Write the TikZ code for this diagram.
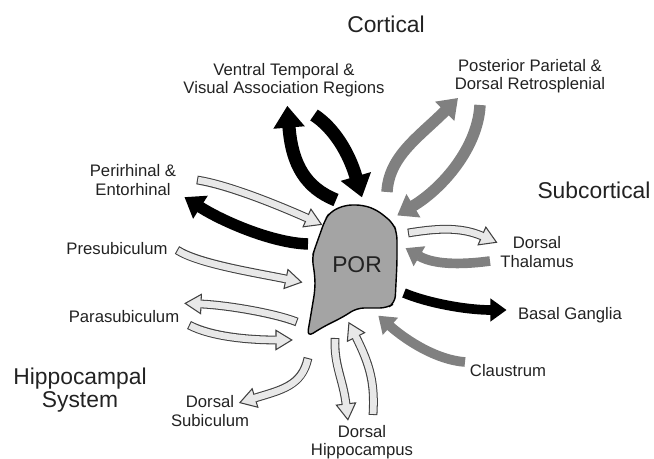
\documentclass[tikz,border=0pt]{standalone}
\usepackage{fontspec}
\setmainfont{Liberation Sans}
\usepackage{tikz}
\usetikzlibrary{decorations.markings}
\definecolor{porgrey}{HTML}{A4A4A4}
\definecolor{fibregrey}{HTML}{808080}
\definecolor{palegrey}{HTML}{E8E8E8}
\definecolor{inkgrey}{HTML}{222222}
\tikzset{
    darkfibre/.style={draw=black, line width=#1,
        postaction={decorate, decoration={markings, mark=at position 1 with {
            \fill[black] (-0.3pt,{-1.2*#1}) -- ({1.6*#1},0) -- (-0.3pt,{1.2*#1}) -- cycle;}}}},
    darkfibre/.default=6.5pt,
    greyfibre/.style={draw=fibregrey, line width=#1,
        postaction={decorate, decoration={markings, mark=at position 1 with {
            \fill[fibregrey] (-0.3pt,{-1.2*#1}) -- ({1.6*#1},0) -- (-0.3pt,{1.2*#1}) -- cycle;}}}},
    greyfibre/.default=6.5pt,
    palefibre/.style={draw=black!75, line width=5pt,
        postaction={draw=palegrey, line width=3.8pt, shorten <=0.6pt},
        postaction={decorate, decoration={markings, mark=at position 1 with {
            \fill[palegrey] (-0.3pt,-5.5pt) -- (9pt,0) -- (-0.3pt,5.5pt) -- cycle;
            \draw[black!75, line width=0.6pt] (0,1.9pt) -- (0,5.5pt) -- (9pt,0) -- (0,-5.5pt) -- (0,-1.9pt);}}}},
    region/.style={font=\fontsize{9.5}{10.5}\selectfont, text=inkgrey, align=center, inner sep=0pt},
    system/.style={font=\fontsize{13}{13.5}\selectfont, text=inkgrey, align=center, inner sep=0pt}
}
\begin{document}
\begin{tikzpicture}[x=0.02cm, y=-0.02cm]
    \useasboundingbox (0,0) rectangle (654,459);

    % postrhinal cortex
    \draw[fill=porgrey, line width=0.8pt, rounded corners=4pt]
        (330,212) -- (345,205) -- (363,205) -- (377,210) -- (393,223) -- (397,233)
        -- (397,263) -- (395,303) -- (387,308) -- (357,308) -- (343,317) -- (323,327)
        -- (307,337) -- (310,320) -- (315,290) -- (315,277) -- (312,257) -- (315,248)
        -- (325,220) -- cycle;
    \node[system] (por) at (357,265) {POR};

    % system headings
    \node[system] (cortical) at (386,24) {Cortical};
    \node[system] (subcortical) at (594,190) {Subcortical};
    \node[system] (hippo) at (80,390) {Hippocampal\\System};

    % regions
    \node[region] (ventral) at (284,80) {Ventral Temporal \&\\Visual Association Regions};
    \node[region] (parietal) at (530,76) {Posterior Parietal \&\\Dorsal Retrosplenial};
    \node[region] (perirhinal) at (133,180) {Perirhinal \&\\Entorhinal};
    \node[region] (presub) at (117,249) {Presubiculum};
    \node[region] (parasub) at (124,317) {Parasubiculum};
    \node[region] (dsub) at (210,411) {Dorsal\\Subiculum};
    \node[region] (dhippo) at (362,442) {Dorsal\\Hippocampus};
    \node[region] (claustrum) at (508,371) {Claustrum};
    \node[region] (basal) at (570,315) {Basal Ganglia};
    \node[region] (thalamus) at (537,252) {Dorsal\\Thalamus};

    % cortical fibres
    \coordinate (vtA) at (336,200); \coordinate (vtB) at (289,127);
    \coordinate (vtC) at (314,115); \coordinate (vtD) at (356,177);
    \draw[darkfibre=7.5pt] (vtA) .. controls +(-30,-12) and +(3,38) .. (vtB);
    \draw[darkfibre=7.5pt] (vtC) .. controls +(20,13) and +(-7,-24) .. (vtD);
    \coordinate (ppA) at (387,192); \coordinate (ppB) at (445,111);
    \coordinate (ppC) at (480,105); \coordinate (ppD) at (413,206);
    \draw[greyfibre] (ppA) .. controls +(2,-36) and +(-26,26) .. (ppB);
    \draw[greyfibre] (ppC) .. controls +(-2,42) and +(30,-18) .. (ppD);

    % hippocampal fibres
    \coordinate (peA) at (197,180); \coordinate (peB) at (307,218);
    \coordinate (peC) at (308,244); \coordinate (peD) at (200,207);
    \draw[palefibre] (peA) .. controls +(32,5) and +(-27,-12) .. (peB);
    \draw[darkfibre] (peC) .. controls +(-36,-1) and +(22,14) .. (peD);
    \coordinate (prA) at (177,250); \coordinate (prB) at (286,279);
    \draw[palefibre] (prA) .. controls +(22,14) and +(-29,-6) .. (prB);
    \coordinate (paA) at (297,322); \coordinate (paB) at (201,304);
    \coordinate (paC) at (189,325); \coordinate (paD) at (276,340);
    \draw[palefibre] (paA) .. controls +(-23,-9) and +(25,1) .. (paB);
    \draw[palefibre] (paC) .. controls +(23,12) and +(-26,0) .. (paD);
    \coordinate (dsA) at (308,358); \coordinate (dsB) at (255,398);
    \draw[palefibre] (dsA) .. controls +(-6,28) and +(26,-8) .. (dsB);
    \coordinate (dhA) at (335,338); \coordinate (dhB) at (346,404);
    \coordinate (dhC) at (373,415); \coordinate (dhD) at (356,337);
    \draw[palefibre] (dhA) .. controls +(-1,28) and +(-3,-25) .. (dhB);
    \draw[palefibre] (dhC) .. controls +(2,-32) and +(14,28) .. (dhD);

    % subcortical fibres
    \coordinate (clA) at (465,362); \coordinate (clB) at (390,326);
    \draw[greyfibre=5.5pt] (clA) .. controls +(-28,-2) and +(17,15) .. (clB);
    \coordinate (bgA) at (404,293); \coordinate (bgB) at (491,310);
    \draw[darkfibre=5.5pt] (bgA) .. controls +(24,10) and +(-25,0) .. (bgB);
    \coordinate (thA) at (408,233); \coordinate (thB) at (482,236);
    \coordinate (thC) at (490,261); \coordinate (thD) at (419,256);
    \draw[palefibre] (thA) .. controls +(25,-4) and +(-23,-10) .. (thB);
    \draw[greyfibre=5.5pt] (thC) .. controls +(-22,3) and +(17,10) .. (thD);
\end{tikzpicture}
\end{document}
